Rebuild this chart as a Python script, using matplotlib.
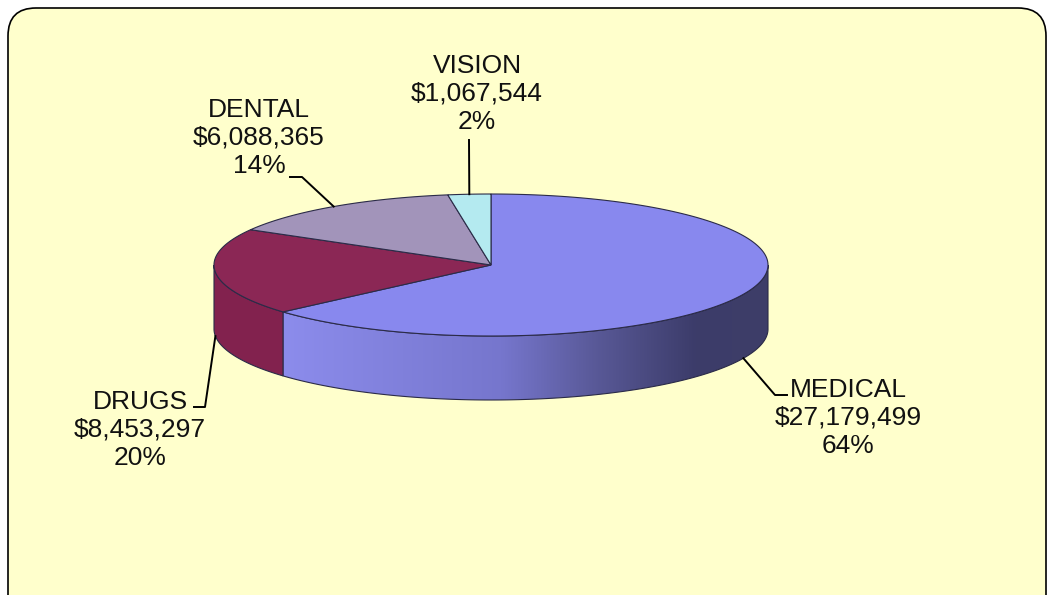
import numpy as np
import matplotlib.pyplot as plt
from matplotlib.patches import Polygon, FancyBboxPatch

plt.rcParams['font.family'] = ['Liberation Sans', 'DejaVu Sans']

# plan cost breakdown
categories = ["MEDICAL", "DRUGS", "DENTAL", "VISION"]
amounts = [27179499, 8453297, 6088365, 1067544]
top_colors = ["#8888ee", "#8b2755", "#a294ba", "#b4eaf0"]
side_colors = [None, "#82224e", "#958aab", "#a6d9de"]

# pie geometry in pixels (y grows downward)
cx, cy = 491, 265
rx, ry = 277, 71
depth = 64
edge = "#2b2b48"

# label centres and leader elbows
label_pos = {
    "MEDICAL": (848, 418),
    "DRUGS": (140, 430),
    "DENTAL": (259, 138),
    "VISION": (477, 94),
}
leader_mid = {
    "MEDICAL": [(775, 395), (787, 395)],
    "DRUGS": [(205, 407), (194, 407)],
    "DENTAL": [(302, 177), (290, 177)],
    "VISION": [(469, 140)],
}


def arc(a0, a1, n=200, dy=0.0):
    t = np.radians(np.linspace(a0, a1, n))
    return np.column_stack([cx + rx * np.cos(t), cy - ry * np.sin(t) + dy])


fig = plt.figure(figsize=(10.48, 5.95), dpi=100)
fig.patch.set_facecolor("white")
ax = fig.add_axes([0, 0, 1, 1])
ax.set_xlim(0, 1048)
ax.set_ylim(595, 0)
ax.axis("off")

frame = FancyBboxPatch((8, 8), 1038, 640, boxstyle="round,pad=0,rounding_size=28",
                       facecolor="#ffffcc", edgecolor="black", lw=1.2)
ax.add_patch(frame)

total = sum(amounts)
sweeps = [v / total * 360 for v in amounts]

# slices run clockwise from 12 o'clock
starts = []
a = 90.0
for s in sweeps:
    starts.append(a)
    a -= s

# outer walls on the front half
for i, (a0, s) in enumerate(zip(starts, sweeps)):
    a1 = a0 - s
    lo, hi = a1, a0
    # map to the front range [-180, 0]
    for shift in (0, -360, 360):
        l, h = lo + shift, hi + shift
        fl, fh = max(l, -180), min(h, 0)
        if fh <= fl:
            continue
        top = arc(fl, fh)
        bot = arc(fh, fl, dy=depth)
        pts = np.vstack([top, bot])
        if side_colors[i] is None:
            poly = Polygon(pts, closed=True, facecolor="none", edgecolor=edge, lw=0.8, zorder=3)
            ax.add_patch(poly)
            xs = np.linspace(0, 1, 256)
            stops_x = [0.0, 0.45, 0.65, 0.85, 1.0]
            stops_c = np.array([[140, 140, 236], [118, 118, 205], [88, 88, 150],
                                [60, 60, 106], [62, 62, 104]]) / 255
            grad = np.column_stack([np.interp(xs, stops_x, stops_c[:, k]) for k in range(3)])
            img = ax.imshow(grad[np.newaxis, :, :], extent=(pts[:, 0].min(), pts[:, 0].max(),
                            pts[:, 1].max(), pts[:, 1].min()), aspect="auto", zorder=2)
            filler = Polygon(pts, closed=True, transform=ax.transData)
            img.set_clip_path(filler)
        else:
            ax.add_patch(Polygon(pts, closed=True, facecolor=side_colors[i],
                                 edgecolor=edge, lw=0.8, zorder=3))

# top faces
for i, (a0, s) in enumerate(zip(starts, sweeps)):
    pts = np.vstack([[cx, cy], arc(a0, a0 - s)])
    ax.add_patch(Polygon(pts, closed=True, facecolor=top_colors[i],
                         edgecolor=edge, lw=0.8, zorder=4))

# labels with leader lines
for i, (name, a0, s) in enumerate(zip(categories, starts, sweeps)):
    mid = np.radians(a0 - s / 2)
    px, py = cx + rx * np.cos(mid), cy - ry * np.sin(mid)
    if np.sin(mid) < 0:
        py += depth
    path = [(px, py)] + leader_mid[name]
    ax.plot([p[0] for p in path], [p[1] for p in path], color="black", lw=1.4, zorder=5)
    pct = amounts[i] / total * 100
    txt = f"{name}\n${amounts[i]:,}\n{pct:.0f}%"
    tx, ty = label_pos[name]
    ax.text(tx, ty, txt, ha="center", va="center", multialignment="center",
            fontsize=19, linespacing=1.2, color="#111111", zorder=6)

fig.savefig("out.png", dpi=100, facecolor="white")
